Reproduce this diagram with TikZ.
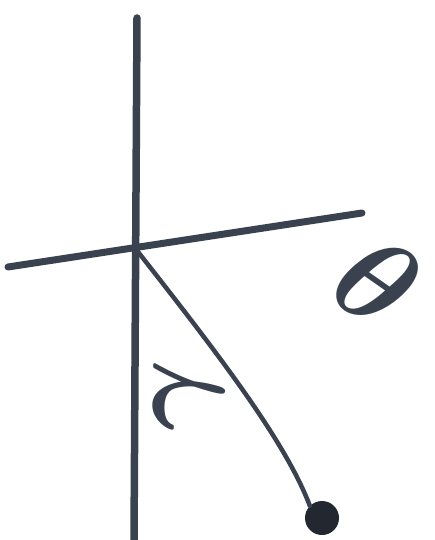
\documentclass[tikz,border=0pt]{standalone}
\usepackage{xcolor}
\usepackage{amsmath}
\usepackage{amssymb}
\usepackage{graphicx}
\usepackage{tikz}
\usetikzlibrary{positioning}
\definecolor{InkSlate}{HTML}{3A4250}
\definecolor{InkDark}{HTML}{23272F}
\newcommand{\inkletter}[2]{\scalebox{#1}{$\boldsymbol{#2}$}}
\tikzset{
  axisline/.style={line width=7.5pt,draw=InkSlate,line cap=round},
  rodline/.style={line width=4.5pt,draw=InkSlate,line cap=round},
  bobnode/.style={circle,fill=InkDark,minimum size=34pt,inner sep=0pt},
  anglab/.style={text=InkSlate,inner sep=0pt},
}

\begin{document}
\begin{tikzpicture}[x=1pt,y=-1pt]
  \useasboundingbox (0,0) rectangle (435,540);
  \coordinate (vtop) at (137,18);
  \coordinate (vbot) at (134,540);
  \coordinate (hleft) at (8,267);
  \coordinate (hright) at (362,213);
  \coordinate (pivot) at (135,248);
  \node[bobnode] (bob) at (322,518) {};
  \draw[axisline] (vtop) -- (vbot);
  \draw[axisline,line width=7pt] (hleft) -- (hright);
  \draw[rodline] (pivot) .. controls (215,350) and (285,440) .. (bob.north west);
  \node[anglab,rotate=90] (gam) at (189,396) {\inkletter{11}{\gamma}};
  \node[anglab,rotate=-35] (tht) at (378,282) {\inkletter{12}{\theta}};
\end{tikzpicture}
\end{document}
